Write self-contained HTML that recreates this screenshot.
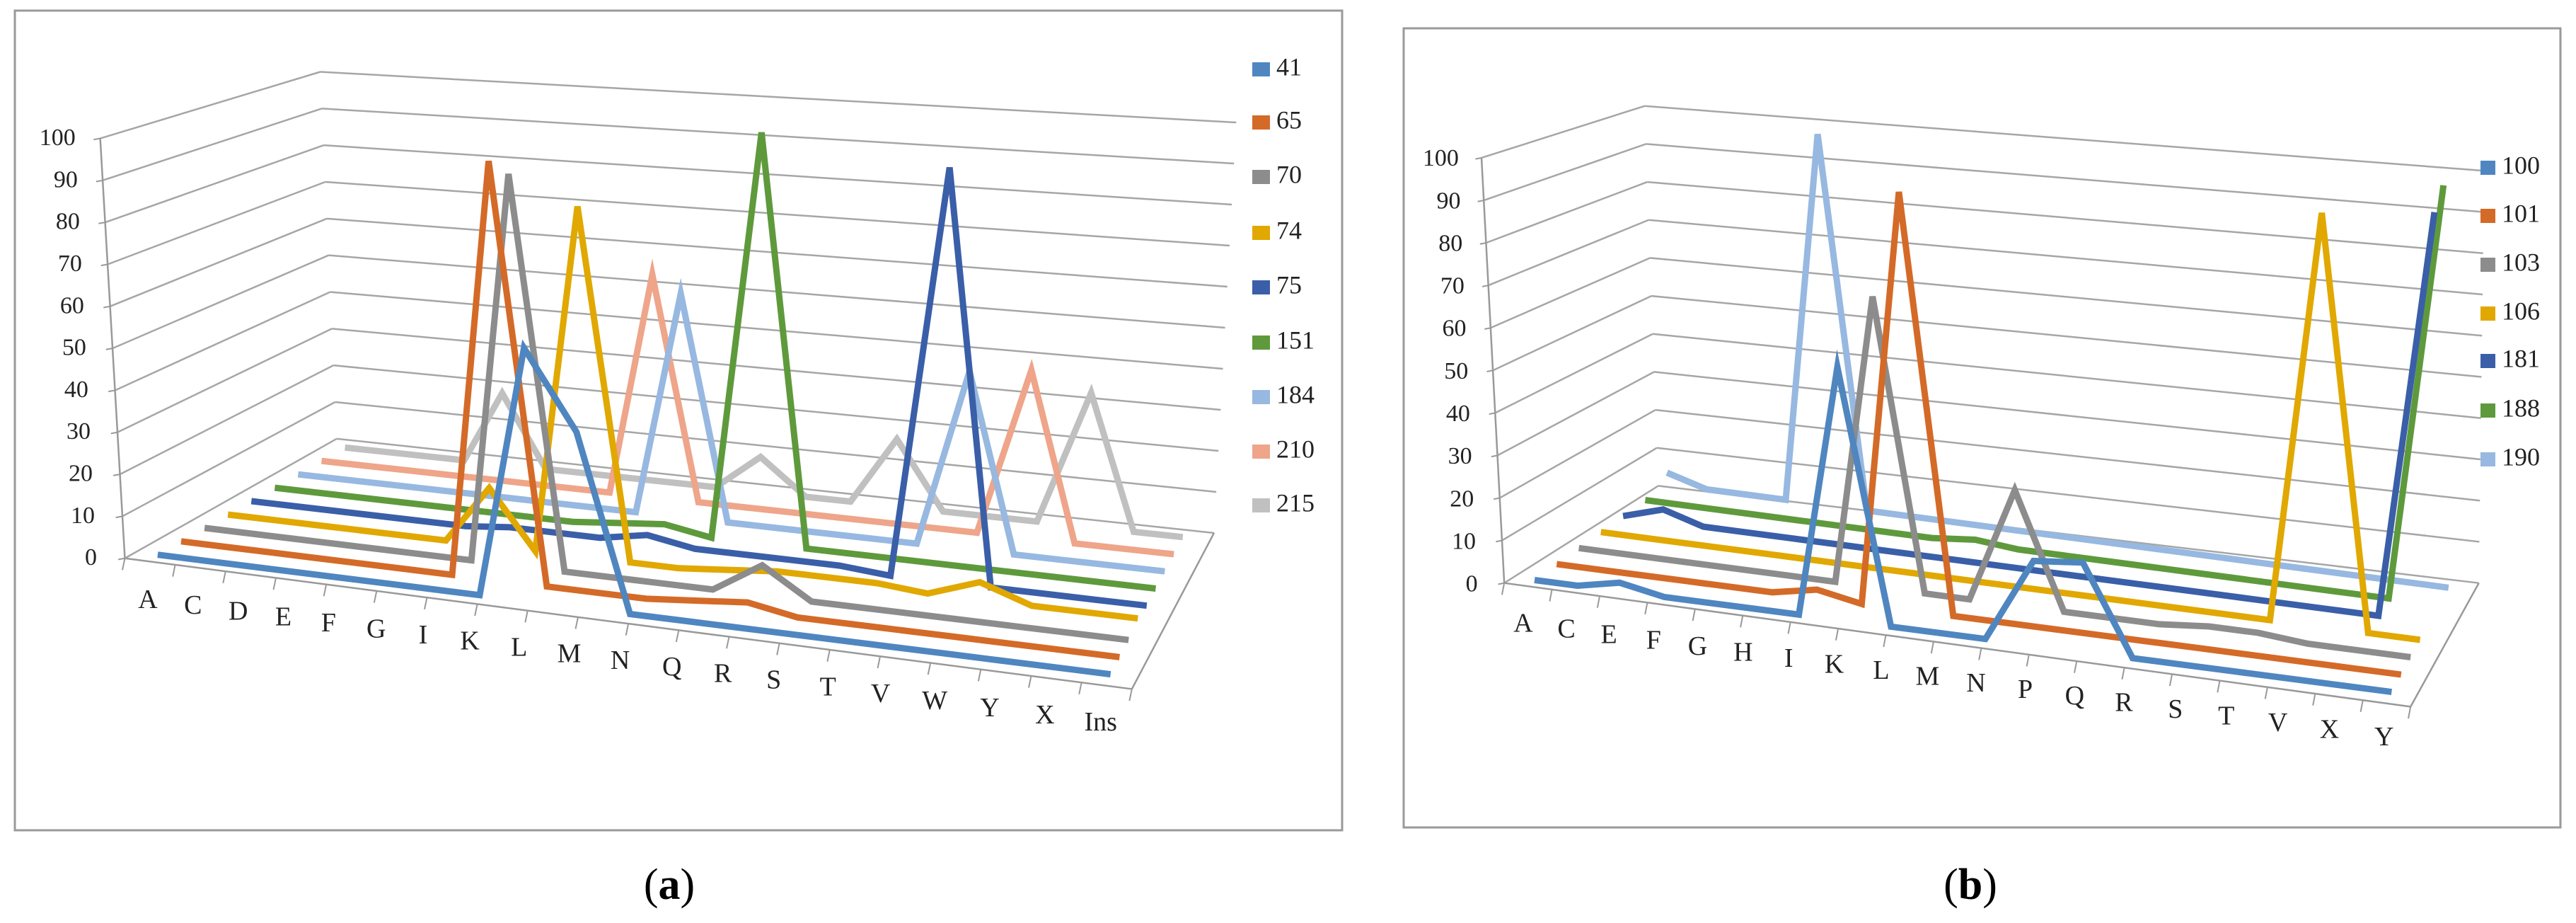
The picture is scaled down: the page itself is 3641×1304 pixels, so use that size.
<!DOCTYPE html>
<html><head><meta charset="utf-8">
<style>
html,body{margin:0;padding:0;background:#fff;}
svg{display:block;font-family:"Liberation Serif",serif;}
</style></head>
<body>
<svg id="chart" width="3641" height="1304" viewBox="0 0 3641 1304" xmlns="http://www.w3.org/2000/svg">
<rect x="21" y="15" width="1876" height="1158" fill="#fff" stroke="#9a9a9a" stroke-width="3"/>
<rect x="1984" y="40" width="1635" height="1129" fill="#fff" stroke="#9a9a9a" stroke-width="3"/>
<text x="946" y="1270" font-size="62" text-anchor="middle">(<tspan font-weight="bold">a</tspan>)</text>
<text x="2785" y="1270" font-size="62" text-anchor="middle">(<tspan font-weight="bold">b</tspan>)</text>
<g id="ga"></g>
<g id="gb"></g>
</svg>
<script>
// ---------- Panel (a) data ----------
const catsA = ["A","C","D","E","F","G","I","K","L","M","N","Q","R","S","T","V","W","Y","X","Ins"];
const seriesNamesA = ["41","65","70","74","75","151","184","210","215"];
const s41  = [0,0,0,0,0,0,0,0,58,40,0,0,0,0,0,0,0,0,0,0];
const s65  = [0,0,0,0,0,0,0,98,0,0,0,1,2,0,0,0,0,0,0,0];
const s70  = [0,0,0,0,0,0,0,93,0,0,0,0,7,0,0,0,0,0,0,0];
const s74  = [0,0,0,0,0,0,14,0,84,0,0,1,2,2,2,1,5,1,1,1];
const s75  = [0,0,0,0,0,0,1,1,1,3,1,1,1,1,0,97,0,0,0,0];
const s151 = [0,0,0,0,0,0,0,0,1,2,0,100,0,0,0,0,0,0,0,0];
const s184 = [0,0,0,0,0,0,0,0,0,56,0,0,0,0,0,43,0,0,0,0];
const s210 = [0,0,0,0,0,0,0,0,57,0,0,0,0,0,0,0,41,0,0,0];
const s215 = [0,0,0,0,19,0,0,0,0,0,9,0,0,17,0,0,0,33,0,0];
const valuesA = [s41,s65,s70,s74,s75,s151,s184,s210,s215];
const colorsA = ["#4f86c0","#d46a28","#8c8c8c","#e0a800","#3a5fa8","#5e9a3c","#97b8e0","#eea58a","#c0c0c0"];
const yTicksA = ["0","10","20","30","40","50","60","70","80","90","100"];

// ---------- Panel (b) data ----------
const catsB = ["A","C","E","F","G","H","I","K","L","M","N","P","Q","R","S","T","V","X","Y"];
const seriesNamesB = ["100","101","103","106","181","188","190"];
const s100 = [0,0,2,0,0,0,0,58,0,0,0,19,20,0,0,0,0,0,0];
const s101 = [0,0,0,0,0,0,2,0,97,0,0,0,0,0,0,0,0,0,0];
const s103 = [0,0,0,0,0,0,0,69,0,0,27,0,0,0,1,1,0,0,0];
const s106 = [0,0,0,0,0,0,0,0,0,0,0,0,0,0,0,0,96,0,0];
const s181 = [0,3,0,0,0,0,0,0,0,0,0,0,0,0,0,0,0,0,96];
const s188 = [0,0,0,0,0,0,0,0,1,0,0,0,0,0,0,0,0,0,100];
const s190 = [3,0,0,0,96,0,0,0,0,0,0,0,0,0,0,0,0,0,0];
const valuesB = [s100,s101,s103,s106,s181,s188,s190];
const colorsB = ["#4f86c0","#d46a28","#8c8c8c","#e0a800","#3a5fa8","#5e9a3c","#97b8e0"];
const yTicksB = ["0","10","20","30","40","50","60","70","80","90","100"];

const NS = "http://www.w3.org/2000/svg";
function mk(parent, tag, attrs){
  const e = document.createElementNS(NS, tag);
  for (const k in attrs) e.setAttribute(k, attrs[k]);
  parent.appendChild(e); return e;
}
const lerp=(a,b,t)=>a+(b-a)*t;
const lp=(p,q,t)=>[lerp(p[0],q[0],t),lerp(p[1],q[1],t)];

function drawPanel(cfg){
  const g = document.getElementById(cfg.gid);
  const C = p=>[cfg.ox + p[0]*cfg.sx, p[1]*cfg.sy];
  const line=(p,q,name,stroke,w)=>{
    const a=C(p), b=C(q);
    const el=mk(g,"line",{x1:a[0],y1:a[1],x2:b[0],y2:b[1],stroke:stroke,"stroke-width":w});
    
    
  };
  const F=cfg.floor;
  // gridlines
  for(let k=0;k<=10;k++){
    const t=k/10;
    const fl=lp(F.FL0,F.FL100,t), bl=lp(F.BL0,F.BL100,t), br=lp(F.BR0,F.BR100,t);
    line(fl,bl,"gridline-side","#a6a6a6",2.5);
    line(bl,br,"gridline-back","#a6a6a6",2.5);
    // y tick label
    const rx=lerp(cfg.ylab0[0],cfg.ylab100[0],t), ry=lerp(cfg.ylab0[1],cfg.ylab100[1],t);
    const p=C([rx,ry]);
    const tx=mk(g,"text",{x:p[0],y:p[1],"font-size":34,"text-anchor":"end","dominant-baseline":"middle",fill:"#222"});
    tx.textContent=cfg.yTicks[k];
    
    
    const tk=lp(fl,[fl[0]-8,fl[1]+2],1);
    line(fl,tk,"y-tick","#999",2);
  }
  line(F.FL0,F.FL100,"y-axis","#999",2.5);
  line(F.FL0,F.FR0,"floor-front-edge","#999",2.5);
  line(F.FR0,F.BR0,"floor-right-edge","#999",2.5);
  // category ticks & labels
  const n=cfg.cats.length;
  const fr=i=>(cfg.labX[i]-cfg.labX[0])/(cfg.labX[n-1]-cfg.labX[0]);
  for(let i=0;i<=n;i++){
    const u=i/n;
    const p=lp(F.FL0,F.FR0,u);
    line(p,[p[0]-3,p[1]+20],"x-tick","#999",2);
  }
  for(let i=0;i<n;i++){
    const u=fr(i);
    const x=cfg.labX[i], y=lerp(cfg.labY0,cfg.labY1,u);
    const p=C([x,y]);
    const tx=mk(g,"text",{x:p[0],y:p[1],"font-size":38,"text-anchor":"middle","dominant-baseline":"middle",fill:"#222"});
    tx.textContent=cfg.cats[i];
    
    
  }
  // series
  const S=cfg.vals.length;
  const bil=(o,u,t)=>lerp(lerp(o.FL,o.FR,u),lerp(o.BL,o.BR,u),t);
  function pt(i,s,v){
    const u=fr(i), t=s/(S-1);
    const f=lp(cfg.P0,cfg.P1,u), b=lp(cfg.Q0,cfg.Q1,u);
    const base=lp(f,b,t);
    const H=bil(cfg.H,u,t), L=bil(cfg.lean,u,t);
    return C([base[0]+L*v/100, base[1]-H*v/100]);
  }
  for(let s=S-1;s>=0;s--){
    const pts=cfg.vals[s].map((v,i)=>pt(i,s,v).map(q=>q.toFixed(1)).join(",")).join(" ");
    const pl=mk(g,"polyline",{points:pts,fill:"none",stroke:cfg.colors[s],"stroke-width":9,"stroke-linejoin":"miter","stroke-miterlimit":6});
    
    
  }
  // legend
  for(let s=0;s<S;s++){
    const y=cfg.legY[s];
    const r=mk(g,"rect",{x:cfg.legX,y:y-10,width:cfg.legW,height:20,fill:cfg.colors[s]});
    
    
    const tx=mk(g,"text",{x:cfg.legX+cfg.legW+9,y:y,"font-size":cfg.legFont,"dominant-baseline":"middle",fill:"#222"});
    tx.textContent=cfg.names[s];
    
    
  }
}

drawPanel({
  gid:"ga", ox:0, sx:1.161, sy:0.832,
  cats:catsA, vals:valuesA, colors:colorsA, names:seriesNamesA, yTicks:yTicksA,
  floor:{FL0:[152,948],FR0:[1378,1170],BR0:[1478,905],BL0:[410,745],FL100:[122,235],BL100:[390,122],BR100:[1505,208]},
  ylab0:[118,950], ylab100:[92,237],
  labX:[180,235,290,345,400,458,515,572,632,693,755,818,880,942,1008,1072,1138,1205,1272,1340],
  labY0:1022, labY1:1230,
  P0:[192,942],P1:[1352,1145],Q0:[420,760],Q1:[1440,912],
  H:{FL:713,FR:787,BL:623,BR:697}, lean:{FL:-30,FR:20,BL:-20,BR:27},
  legX:1770, legW:25, legFont:36, legY:[98,173,250,329,406,484,561,638,714]
});
drawPanel({
  gid:"gb", ox:1960, sx:1.072, sy:0.832,
  cats:catsB, vals:valuesB, colors:colorsB, names:seriesNamesB, yTicks:yTicksB,
  floor:{FL0:[155,990],FR0:[1350,1200],BR0:[1440,990],BL0:[358,825],FL100:[125,268],BL100:[340,180],BR100:[1447,290]},
  ylab0:[120,995], ylab100:[95,272],
  labX:[180,237,293,352,410,470,530,590,652,713,777,842,907,972,1040,1107,1175,1243,1315],
  labY0:1062, labY1:1255,
  P0:[195,985],P1:[1325,1175],Q0:[370,822],Q1:[1400,998],
  H:{FL:722,FR:777,BL:645,BR:700}, lean:{FL:-30,FR:10,BL:-15,BR:5},
  legX:3506, legW:21, legFont:36, legY:[237,305,374,443,510,580,649]
});
</script>
</body></html>
